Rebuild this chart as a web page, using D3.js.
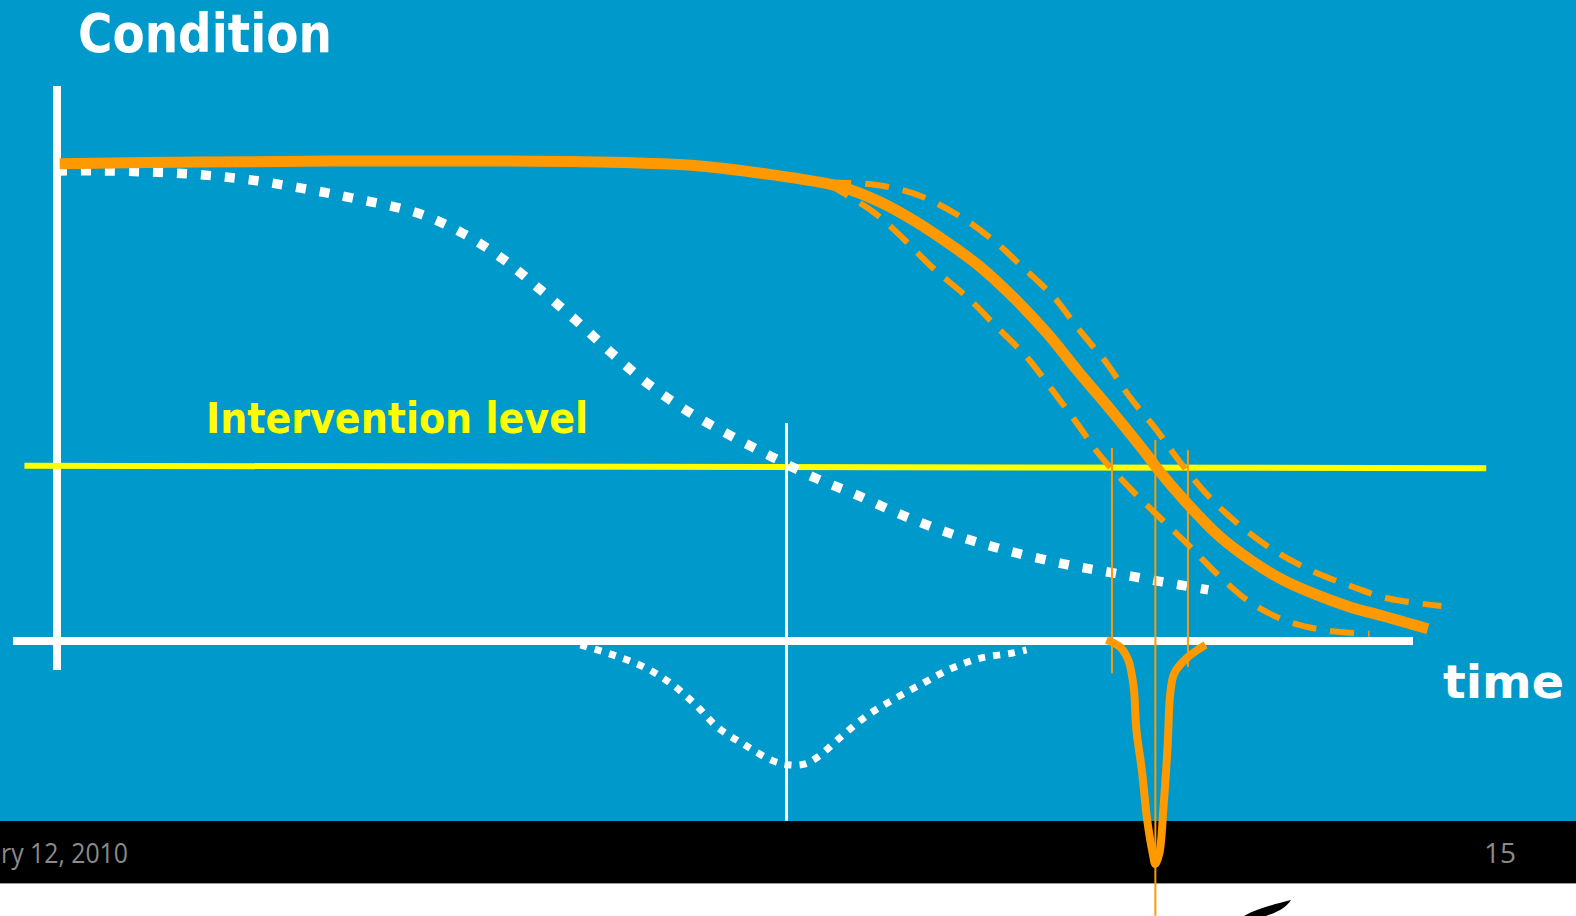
<!DOCTYPE html>
<html>
<head>
<meta charset="utf-8">
<script src="https://cdn.jsdelivr.net/npm/d3@7"></script>
<style>
  html, body { margin: 0; padding: 0; background: #ffffff; overflow: hidden; }
  svg { display: block; }
</style>
</head>
<body>
<svg id="chart" width="1576" height="916"></svg>
<script>
// ---- data: condition (0-100) against time (0-100) ----
const timeDomain = [0, 100];
const conditionDomain = [0, 100];

// expected degradation path (solid orange)
const expectedPath = [
  [0.2, 86.0], [10.5, 86.3], [25.3, 86.5], [40.0, 86.3], [47.4, 85.6],
  [53.3, 83.8], [56.8, 82.4], [58.5, 81.3], [60.7, 79.1], [63.1, 75.9],
  [65.6, 71.9], [68.1, 67.4], [70.5, 62.0], [73.0, 55.5], [75.4, 48.3],
  [77.9, 41.1], [80.4, 33.5], [81.1, 31.2], [83.3, 24.9], [85.8, 18.7],
  [88.0, 14.6], [90.4, 11.0], [92.9, 8.3], [95.4, 6.1], [97.8, 4.5],
  [101.1, 2.2]
];

// uncertainty band around the expected path (dashed orange)
const upperBound = [
  [56.8, 82.6], [60.0, 82.3], [63.1, 80.7], [66.4, 76.8], [69.0, 72.3],
  [71.2, 67.4], [73.5, 62.0], [75.4, 56.0], [77.4, 50.1], [79.1, 44.0],
  [81.1, 38.0], [82.8, 32.3], [85.0, 25.9], [87.2, 20.9], [89.7, 16.4],
  [92.4, 12.8], [95.4, 9.9], [98.1, 7.7], [102.1, 6.3]
];
const lowerBound = [
  [56.8, 82.4], [60.2, 77.3], [62.5, 72.3], [64.6, 67.2], [67.1, 62.0],
  [69.3, 56.6], [71.5, 51.2], [73.4, 45.2], [75.2, 39.3], [76.9, 33.5],
  [79.1, 27.6], [81.3, 22.3], [83.6, 16.9], [85.8, 11.5], [88.1, 6.8],
  [90.9, 3.4], [93.9, 1.8], [96.8, 1.3]
];

// degradation without condition information (white dotted)
const uninformedPath = [
  [0.0, 84.7], [3.2, 84.7], [6.9, 84.5], [10.6, 84.0], [14.2, 83.1],
  [18.0, 81.6], [21.8, 79.8], [26.6, 77.1], [29.9, 73.5], [32.9, 68.8],
  [35.6, 63.4], [38.3, 57.7], [40.9, 51.9], [43.6, 46.3], [46.5, 41.4],
  [49.6, 37.1], [52.7, 33.2], [55.8, 29.5], [58.8, 26.5], [62.5, 22.5],
  [66.2, 19.1], [69.9, 16.4], [74.2, 13.9], [77.8, 12.3], [81.2, 10.8],
  [84.9, 9.2]
];

// spread of the moment the intervention level is reached (drawn below the axis)
const wideSpread = [
  [38.6, -0.7], [41.0, -2.5], [43.3, -4.7], [45.3, -7.7], [47.1, -11.5],
  [48.7, -15.5], [50.7, -18.7], [52.8, -21.6], [53.9, -22.3], [55.1, -22.2],
  [56.1, -20.9], [57.9, -17.1], [59.7, -13.5], [61.7, -10.5], [63.8, -7.7],
  [65.9, -5.0], [68.1, -3.1], [70.4, -2.2], [71.5, -1.6]
];
const narrowSpread = [
  [77.4, 0.2], [78.4, -1.1], [79.0, -3.4], [79.4, -8.3], [79.6, -16.0],
  [80.0, -23.2], [80.4, -32.3], [80.8, -38.2], [81.0, -40.2], [81.3, -38.2],
  [81.6, -29.9], [81.9, -19.1], [82.1, -9.4], [82.4, -5.8], [83.3, -3.1],
  [84.7, -0.7]
];

const interventionLevel = 31.4;
const interventionSpan = [-2.4, 105.4];
const inspectionMarker = { t: 53.8, from: 39.3, to: -32.4 };
const bandMarkers = [
  { t: 77.8, from: 34.8, to: -5.8 },
  { t: 81.0, from: 36.2, to: -49.5 },
  { t: 83.4, from: 34.4, to: -4.7 }
];

const titleText = "Condition";
const timeLabel = "time";
const levelLabel = "Intervention level";
const footerDate = "ry 12, 2010";
const footerPage = "15";

// ---- drawing ----
const W = 1576, H = 916;
const BLUE = "#0099cc", ORANGE = "#ff9900", YELLOW = "#ffff00";

const svg = d3.select("#chart");
const x = d3.scaleLinear().domain(timeDomain).range([57, 1413]);
const y = d3.scaleLinear().domain(conditionDomain).range([641, 86]);

// slide background and footer
svg.append("rect").attr("x", 0).attr("y", 0).attr("width", W).attr("height", 821).attr("fill", BLUE);
svg.append("rect").attr("x", 0).attr("y", 821).attr("width", W).attr("height", 62).attr("fill", "#000");
svg.append("rect").attr("x", 0).attr("y", 883).attr("width", W).attr("height", H - 883).attr("fill", "#fff");
svg.append("line").attr("x1", 0).attr("x2", W).attr("y1", 883.5).attr("y2", 883.5)
  .attr("stroke", "#9a9a9a").attr("stroke-width", 1);

const curve = d3.line()
  .x(d => x(d[0]))
  .y(d => y(d[1]))
  .curve(d3.curveCatmullRom.alpha(0.5));

// axes
svg.append("line")
  .attr("x1", x(0)).attr("x2", x(0))
  .attr("y1", y(100)).attr("y2", y(0) + 29)
  .attr("stroke", "#fff").attr("stroke-width", 8);
svg.append("line")
  .attr("x1", x(0) - 44).attr("x2", x(100))
  .attr("y1", y(0)).attr("y2", y(0))
  .attr("stroke", "#fff").attr("stroke-width", 8);

// intervention level
svg.append("line")
  .attr("x1", x(interventionSpan[0])).attr("x2", x(interventionSpan[1]))
  .attr("y1", y(interventionLevel) - 1).attr("y2", y(interventionLevel) + 1.5)
  .attr("stroke", YELLOW).attr("stroke-width", 6);

// inspection moment
svg.append("line")
  .attr("x1", x(inspectionMarker.t)).attr("x2", x(inspectionMarker.t))
  .attr("y1", y(inspectionMarker.from)).attr("y2", y(inspectionMarker.to))
  .attr("stroke", "#fff").attr("stroke-width", 3);

// uninformed path and its spread
svg.append("path").attr("d", curve(uninformedPath))
  .attr("fill", "none").attr("stroke", "#fff")
  .attr("stroke-width", 9.5).attr("stroke-dasharray", "10,14");
svg.append("path").attr("d", curve(wideSpread))
  .attr("fill", "none").attr("stroke", "#fff")
  .attr("stroke-width", 7).attr("stroke-dasharray", "7,8");

// band markers
svg.selectAll("line.band").data(bandMarkers).join("line")
  .attr("class", "band")
  .attr("x1", d => x(d.t)).attr("x2", d => x(d.t))
  .attr("y1", d => y(d.from)).attr("y2", d => y(d.to))
  .attr("stroke", ORANGE).attr("stroke-width", 2);

// informed path with its band
[upperBound, lowerBound].forEach(b => {
  svg.append("path").attr("d", curve(b))
    .attr("fill", "none").attr("stroke", ORANGE)
    .attr("stroke-width", 6).attr("stroke-dasharray", "24,14");
});
svg.append("path").attr("d", curve(expectedPath))
  .attr("fill", "none").attr("stroke", ORANGE).attr("stroke-width", 11);
svg.append("path").attr("d", curve(narrowSpread))
  .attr("fill", "none").attr("stroke", ORANGE)
  .attr("stroke-width", 8).attr("stroke-linejoin", "round");

// labels
svg.append("text").text(titleText)
  .attr("x", 78).attr("y", 52)
  .attr("font-family", "'DejaVu Sans', sans-serif").attr("font-weight", 700)
  .attr("font-size", 53).attr("fill", "#fff")
  .attr("textLength", 254).attr("lengthAdjust", "spacingAndGlyphs");
svg.append("text").text(levelLabel)
  .attr("x", 206).attr("y", 433)
  .attr("font-family", "'DejaVu Sans', sans-serif").attr("font-weight", 700)
  .attr("font-size", 43).attr("fill", YELLOW)
  .attr("textLength", 382).attr("lengthAdjust", "spacingAndGlyphs");
svg.append("text").text(timeLabel)
  .attr("x", 1443).attr("y", 698)
  .attr("font-family", "'DejaVu Sans', sans-serif").attr("font-weight", 700)
  .attr("font-size", 47).attr("fill", "#fff")
  .attr("textLength", 121).attr("lengthAdjust", "spacingAndGlyphs");

// footer
svg.append("text").text(footerDate)
  .attr("x", 1).attr("y", 863)
  .attr("font-family", "'Open Sans', sans-serif").attr("font-size", 28)
  .attr("fill", "#8a8a8a")
  .attr("textLength", 127).attr("lengthAdjust", "spacingAndGlyphs");
svg.append("text").text(footerPage)
  .attr("x", 1516).attr("y", 863).attr("text-anchor", "end")
  .attr("font-family", "'Open Sans', sans-serif").attr("font-size", 28)
  .attr("fill", "#8a8a8a");

// swoosh fragment at the bottom edge
svg.append("path")
  .attr("d", "M1244,916 C1258,908 1276,904 1291,900 C1287,907 1278,912 1266,916 Z")
  .attr("fill", "#000");
</script>
</body>
</html>
